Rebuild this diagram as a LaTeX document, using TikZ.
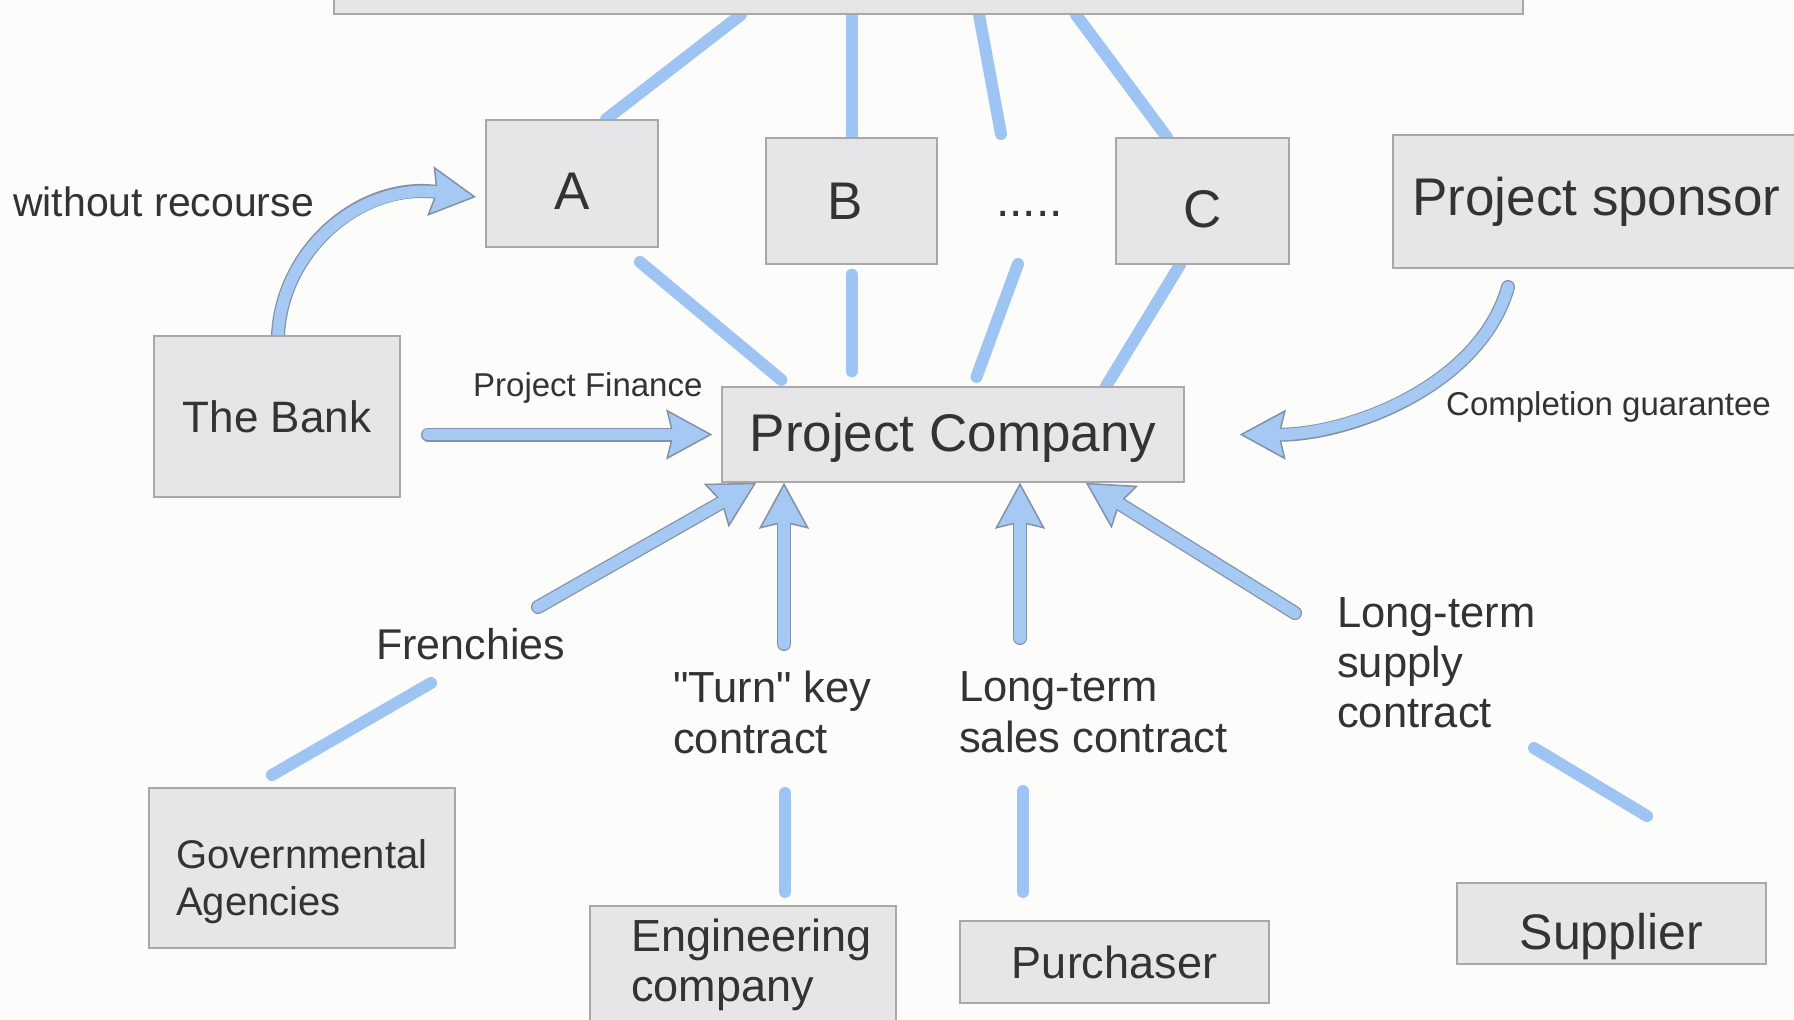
\documentclass[tikz,border=0pt]{standalone}
\usepackage{fontspec}
\setmainfont{Liberation Sans}[Ligatures=TeXOff]
\usepackage{xcolor}
\usetikzlibrary{arrows.meta}

\definecolor{paper}{HTML}{FCFCFA}
\definecolor{boxgray}{HTML}{E6E6E8}
\definecolor{boxedge}{HTML}{A8A8A8}
\definecolor{linkblue}{HTML}{9EC4F4}
\definecolor{arrowfill}{HTML}{A6C9F4}
\definecolor{arrowedge}{HTML}{8291A8}
\definecolor{ink}{HTML}{333333}

\newcommand{\sz}[2]{\fontsize{#1}{#2}\selectfont}

\pgfdeclarelayer{paperlayer}
\pgfdeclarelayer{linklayer}
\pgfsetlayers{paperlayer,linklayer,main}

\tikzset{
  box/.style={draw=boxedge, fill=boxgray, line width=1.5pt, inner sep=0pt, text=ink},
  lbl/.style={inner sep=0pt, text=ink, align=left},
  link/.style={draw=linkblue, line width=12pt, line cap=round},
  bigtip/.style={-{Stealth[length=46pt, width=50pt, inset=6pt, fill=arrowfill, color=arrowedge, line width=1.5pt]}},
  arrowrim/.style={draw=arrowedge, line width=14pt, line cap=round, bigtip},
  arrowcore/.style={draw=arrowfill, line width=11.5pt, line cap=round, shorten >=36pt}
}

\begin{document}
\begin{tikzpicture}[x=1pt, y=1pt]
\useasboundingbox (0,0) rectangle (1794,-1020);
\clip (0,0) rectangle (1794,-1020);

\node[box, minimum width=1189pt, minimum height=60pt] (top) at (928.5,16) {};
\node[box, minimum width=172pt, minimum height=127pt, font=\sz{53}{61}, text height=51pt, text depth=0pt] (A) at (572,-183.5) {A};
\node[box, minimum width=171pt, minimum height=126pt, font=\sz{53}{61}] (B) at (851.5,-201) {\hspace*{-12pt}B};
\node[lbl, anchor=base west, font=\sz{48}{55}] (dots) at (996,-216) {.....};
\node[box, minimum width=173pt, minimum height=126pt, font=\sz{53}{61}, text height=52pt, text depth=0pt] (C) at (1202.5,-201) {C};
\node[box, minimum width=407pt, minimum height=133pt, font=\sz{53}{61}] (sponsor) at (1596.5,-201.5) {Project sponsor};
\node[box, minimum width=462pt, minimum height=95pt, font=\sz{53}{61}, text height=44pt] (pc) at (953,-434.5) {Project Company};
\node[box, minimum width=246pt, minimum height=161pt, font=\sz{44}{51}] (bank) at (277,-416.5) {The Bank};
\node[box, minimum width=306pt, minimum height=160pt] (gov) at (302,-868) {};
\node[lbl, anchor=north west, font=\sz{40}{47}] (govtext) at (176,-839) {Governmental\\Agencies};
\node[box, minimum width=306pt, minimum height=164pt] (eng) at (743,-988) {};
\node[lbl, anchor=north west, font=\sz{45}{50}] (engtext) at (631,-919) {Engineering\\company};
\node[box, minimum width=309pt, minimum height=82pt, font=\sz{45}{52}] (buyer) at (1114.5,-962) {Purchaser};
\node[box, minimum width=309pt, minimum height=81pt, font=\sz{50}{58}, text height=52pt, text depth=0pt] (supplier) at (1611.5,-923.5) {Supplier};

\node[lbl, anchor=base west, font=\sz{41}{47}] (recourse) at (13,-216) {without recourse};
\node[lbl, anchor=base west, font=\sz{33}{38}] (finance) at (473,-396) {Project Finance};
\node[lbl, anchor=base west, font=\sz{33}{38}] (guarantee) at (1446,-415) {Completion guarantee};
\node[lbl, anchor=base west, font=\sz{43}{49}] (frenchies) at (376,-659) {Frenchies};
\node[lbl, anchor=north west, font=\sz{43.5}{51}] (turnkey) at (673,-671) {"Turn" key\\contract};
\node[lbl, anchor=north west, font=\sz{43.5}{51}] (sales) at (959,-671) {Long-term\\sales contract};
\node[lbl, anchor=north west, font=\sz{43.5}{50}] (supply) at (1337,-597) {Long-term\\supply\\contract};

\foreach \n/\x/\y in {dotsup/1001/-134, dotsdown/1018/-264, Adown/640/-262,
    govup/272/-775, frendown/431/-683, keylow/785/-892, keyhigh/785/-793,
    saleslow/1023/-892, saleshigh/1023/-791, supplyhigh/1534/-748, supplylow/1647/-816,
    Atip/476/-197, finstart/428/-434.5, guarstart/1508/-287, frenstart/538/-607,
    keystart/784/-644, salesstart/1020/-638, supplystart/1295/-613}
  \coordinate (\n) at (\x,\y);

\begin{pgfonlayer}{paperlayer}
\fill[paper] (0,0) rectangle (1794,-1020);
\end{pgfonlayer}

\begin{pgfonlayer}{linklayer}
\draw[link] (top.south -| 741,0) -- (A.north -| 606,0);
\draw[link] (top.south -| 851.5,0) -- (B.north);
\draw[link] (top.south -| 979,0) -- (dotsup);
\draw[link] (top.south -| 1076,0) -- (C.north -| 1167,0);
\draw[link, shorten >=10pt] (Adown) -- (pc.north -| 789,0);
\draw[link, shorten <=10pt, shorten >=15pt] (B.south) -- (pc.north -| B.south);
\draw[link, shorten >=10pt] (dotsdown) -- (pc.north -| 973,0);
\draw[link] (C.south -| 1180,0) -- (pc.north -| 1106,0);
\draw[link] (govup) -- (frendown);
\draw[link] (keylow) -- (keyhigh);
\draw[link] (saleslow) -- (saleshigh);
\draw[link] (supplyhigh) -- (supplylow);

\foreach \s in {arrowrim,arrowcore}{
  \draw[\s] (bank.north -| 278,0) .. controls (282,-250) and (360,-182) .. (Atip);
  \draw[\s] (finstart) -- ([xshift=-9pt]pc.west);
  \draw[\s] (guarstart) .. controls (1480,-386) and (1349,-435) .. ([xshift=55pt]pc.east);
  \draw[\s] (frenstart) -- ([xshift=35pt]pc.south west);
  \draw[\s] (keystart) -- (keystart |- pc.south);
  \draw[\s] (salesstart) -- (salesstart |- pc.south);
  \draw[\s] (supplystart) -- ([xshift=-99pt]pc.south east);
}
\end{pgfonlayer}
\end{tikzpicture}
\end{document}
